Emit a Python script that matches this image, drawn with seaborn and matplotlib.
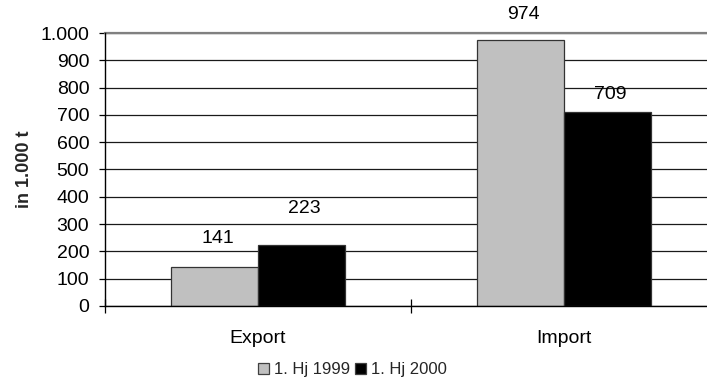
import matplotlib
matplotlib.use("Agg")
import matplotlib.pyplot as plt
import seaborn as sns
import pandas as pd
from matplotlib.ticker import FuncFormatter, FixedLocator

categories = ["Export", "Import"]
periods = ["1. Hj 1999", "1. Hj 2000"]
values_1999 = [141, 974]
values_2000 = [223, 709]
colors = ["#c0c0c0", "#000000"]

df = pd.DataFrame({
    "Kategorie": categories * 2,
    "Zeitraum": [periods[0]] * 2 + [periods[1]] * 2,
    "Wert": values_1999 + values_2000,
})

sns.set_theme(style="white")
plt.rcParams["font.family"] = ["Liberation Sans", "DejaVu Sans"]

fig = plt.figure(figsize=(7.07, 3.80), dpi=100)
ax = fig.add_axes([0.1485, 0.195, 0.8656, 0.718])

sns.barplot(data=df, x="Kategorie", y="Wert", hue="Zeitraum", order=categories,
            hue_order=periods, palette=colors, width=0.57, edgecolor="#333333",
            linewidth=0.9, ax=ax, legend=True, zorder=3)

# value labels above each bar (offsets in points)
label_offsets = {0: [15, 12], 1: [20, 7]}
for i, cont in enumerate(ax.containers):
    for j, (patch, val) in enumerate(zip(cont.patches, cont.datavalues)):
        ax.annotate(f"{int(val)}",
                    xy=(patch.get_x() + patch.get_width() / 2 + 0.01, patch.get_height()),
                    xytext=(0, label_offsets[i][j]), textcoords="offset points",
                    ha="center", va="bottom", fontsize=14, color="black",
                    annotation_clip=False)

ax.set_xlim(-0.5, 1.5)
ax.set_ylim(0, 1000)
ax.set_yticks(range(0, 1001, 100))
ax.yaxis.set_major_formatter(FuncFormatter(lambda v, p: f"{int(v):,}".replace(",", ".")))
ax.grid(axis="y", color="#1a1a1a", linewidth=0.9, zorder=0)
ax.set_axisbelow(True)

ax.set_xlabel("")
ax.set_ylabel("in 1.000 t", fontsize=13, fontweight="bold")
ax.yaxis.set_label_coords(-0.118, 0.5)

ax.tick_params(axis="y", which="major", direction="out", length=4.3, width=0.9,
               color="black", labelsize=14, labelcolor="black", left=True, pad=7)
ax.tick_params(axis="x", which="major", length=0, labelsize=14, labelcolor="black", pad=17)
ax.xaxis.set_minor_locator(FixedLocator([-0.5, 0.5, 1.5]))
ax.tick_params(axis="x", which="minor", direction="inout", length=9.5, width=0.9,
               color="black", bottom=True)

ax.spines["right"].set_visible(False)
ax.spines["top"].set_color("#808080")
ax.spines["top"].set_linewidth(1.6)
for side in ["left", "bottom"]:
    ax.spines[side].set_color("black")
    ax.spines[side].set_linewidth(1.0)
    ax.spines[side].set_zorder(4)

handles, labels = ax.get_legend_handles_labels()
ax.get_legend().remove()
for h in handles:
    h.set_edgecolor("#404040")
fig.legend(handles, labels, loc="center", bbox_to_anchor=(0.498, 0.027), ncol=2,
           frameon=False, fontsize=12, handlelength=0.7, handleheight=0.7,
           handletextpad=0.25, columnspacing=0.3, borderpad=0)

fig.savefig("out.png", dpi=100)
